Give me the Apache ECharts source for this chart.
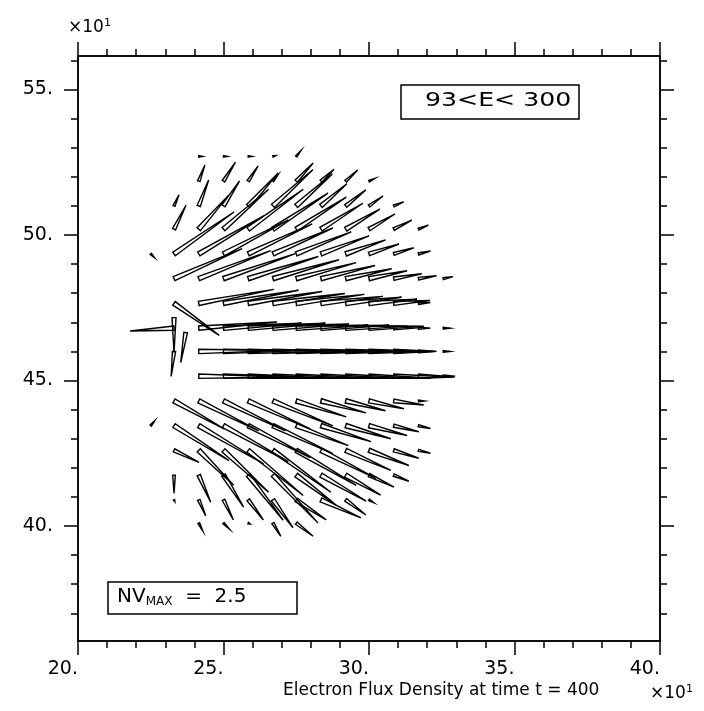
<!DOCTYPE html>
<html><head><meta charset="utf-8">
<script src="https://cdn.jsdelivr.net/npm/echarts@6/dist/echarts.min.js"></script>
<style>html,body{margin:0;padding:0;background:#fff}#c{width:704px;height:711px}</style>
</head><body><div id="c"></div>
<script>
// grid column positions (index 0 = col -2)
const colX = [21.65,22.5,23.3,24.15,25.0,25.85,26.7,27.5,28.35,29.2,30.0,30.85,31.7,32.55,33.4];
// row positions and first column (col 0 = 23.3)
const rowY = [52.7,51.85,51.0,50.2,49.35,48.5,47.65,46.8,46.0,45.15,44.3,43.45,42.6,41.75,40.9,40.1];
const rowFirstCol = [1,1,0,0,-1,0,0,0,0,1,0,-1,0,0,0,1];
// vector components per row (x-direction u, y-direction v)
const U = [
 [0.14,0.14,0.14,0.10,0.17],
 [0.21,0.41,0.34,0.17,0.58,0.45,0.41,0.21],
 [0.17,0.34,0.55,1.03,1.37,1.24,0.89,0.69,0.48,0.34],
 [0.41,1.03,1.55,1.89,1.89,1.72,1.44,1.17,0.89,0.62,0.34],
 [0.14,2.06,2.23,2.23,2.20,2.06,1.89,1.65,1.37,1.03,0.69,0.41],
 [2.34,2.47,2.47,2.41,2.27,2.06,1.86,1.58,1.31,0.96,0.62,0.34],
 [1.55,2.58,2.58,2.54,2.47,2.34,2.13,1.92,1.65,1.24,0.41],
 [-1.51,2.68,2.68,2.65,2.61,2.47,2.34,2.13,1.89,1.03,0.41,0.24],
 [-0.10,2.75,2.75,2.75,2.71,2.61,2.47,2.27,2.06,1.44,0.62,0.24],
 [2.75,2.75,2.75,2.75,2.68,2.54,2.34,2.13,1.86,1.24,0.41],
 [1.72,2.06,2.13,2.13,2.06,1.72,1.55,1.37,1.20,1.03,0.21],
 [0.14,1.89,2.23,2.23,2.13,2.06,1.79,1.72,1.55,1.31,0.86,0.41],
 [0.86,1.20,1.55,1.89,1.99,2.06,1.89,1.55,1.37,0.86,0.41],
 [0.00,0.41,0.69,1.20,1.55,1.37,1.55,1.20,0.86,0.52],
 [0.03,0.24,0.34,0.52,0.69,1.03,1.37,0.69,0.17],
 [0.14,0.21,0.07,0.27,0.58]
];
const V = [
 [0,0,0,0.03,0.21],
 [0.55,0.65,0.52,0.21,0.62,0.41,0.38,0.10],
 [0.38,0.89,0.86,1.13,1.24,1.10,0.76,0.55,0.34,0.14],
 [0.82,1.17,1.37,1.37,1.24,1.10,0.89,0.69,0.52,0.31,0.14],
 [-0.14,1.44,1.31,1.17,1.03,0.89,0.76,0.62,0.48,0.34,0.21,0.10],
 [1.03,0.96,0.86,0.76,0.65,0.55,0.45,0.34,0.27,0.17,0.10,0.07],
 [-1.10,0.48,0.45,0.41,0.34,0.31,0.24,0.21,0.14,0.10,0.03],
 [-0.10,0.21,0.17,0.17,0.14,0.10,0.10,0.07,0.07,0.03,0,0],
 [-0.86,0.03,0.03,0,0,0,0,0,0,0,0,0],
 [-0.03,-0.03,-0.07,-0.07,-0.07,-0.07,-0.07,-0.07,-0.03,-0.03,0],
 [-0.96,-1.03,-1.03,-0.96,-0.86,-0.55,-0.41,-0.34,-0.27,-0.14,0],
 [0.17,-1.20,-1.31,-1.24,-1.10,-0.96,-0.69,-0.55,-0.45,-0.34,-0.21,-0.10],
 [-0.41,-1.20,-1.44,-1.55,-1.44,-1.20,-0.96,-0.69,-0.52,-0.27,-0.10],
 [-0.62,-0.93,-1.10,-1.55,-1.65,-1.03,-0.89,-0.69,-0.41,-0.21],
 [-0.07,-0.55,-0.69,-0.69,-0.96,-0.69,-0.62,-0.52,-0.10],
 [-0.27,-0.21,-0.03,-0.45,-0.45]
];
// irregular vectors next to the source (off-grid)
const srcX = [23.30, 23.70];
const srcY = [47.16, 46.65];
const srcU = [0.00, -0.17];
const srcV = [-1.20, -1.03];

const xMajor = [20,25,30,35,40];
const xMinor = [21,22,23,24,26,27,28,29,31,32,33,34,36,37,38,39];
const yMajor = [40,45,50,55];
const yMinor = [37,38,39,41,42,43,44,46,47,48,49,51,52,53,54,56];
const X_MIN = 20, X_MAX = 40, Y_MIN = 36.05, Y_MAX = 56.15;
const labelText = '93<E< 300';
const nvValue = '2.5';
const titleText = 'Electron Flux Density at time t = 400';

const data = [];
rowY.forEach((y, r) => {
  U[r].forEach((u, k) => {
    const col = rowFirstCol[r] + k;
    data.push([colX[col + 2], y, u, V[r][k]]);
  });
});
srcX.forEach((x, i) => data.push([x, srcY[i], srcU[i], srcV[i]]));

const FONT = 'DejaVu Sans';
const lineC = '#000';
function xAx(pos, ticks, len, labels) {
  return {type:'value', position:pos, min:X_MIN, max:X_MAX, gridIndex:0,
    axisLine:{show:true, onZero:false, lineStyle:{color:lineC, width:1.5}},
    axisTick:{show:true, customValues:ticks, length:len, inside:false, lineStyle:{color:lineC, width:1.5}},
    axisLabel:{show:labels, customValues:ticks, formatter:v=>v+'.', align:'right', margin:19,
      color:'#000', fontFamily:FONT, fontSize:19},
    splitLine:{show:false}};
}
function yAx(pos, ticks, len, labels) {
  return {type:'value', position:pos, min:Y_MIN, max:Y_MAX, gridIndex:0,
    axisLine:{show:true, onZero:false, lineStyle:{color:lineC, width:1.5}},
    axisTick:{show:true, customValues:ticks, length:len, inside:false, lineStyle:{color:lineC, width:1.5}},
    axisLabel:{show:labels, customValues:ticks, formatter:v=>v+'.', margin:25, verticalAlign:'middle',
      color:'#000', fontFamily:FONT, fontSize:19, padding:[0,0,6,0]},
    splitLine:{show:false}};
}

const chart = echarts.init(document.getElementById('c'), null, {renderer:'canvas'});
chart.setOption({
  animation:false,
  backgroundColor:'#fff',
  grid:{left:78, top:56, width:582, height:585},
  xAxis:[xAx('bottom', xMajor, 14, true), xAx('bottom', xMinor, 7, false),
         xAx('top', xMajor, 14, false), xAx('top', xMinor, 7, false)],
  yAxis:[yAx('left', yMajor, 14, true), yAx('left', yMinor, 7, false),
         yAx('right', yMajor, 14, false), yAx('right', yMinor, 7, false)],
  series:[{
    type:'custom', xAxisIndex:0, yAxisIndex:0, data:data,
    renderItem:function(params, api){
      const x = api.value(0), y = api.value(1), u = api.value(2), v = api.value(3);
      const p0 = api.coord([x, y]);
      const p1 = api.coord([x + u, y + v]);
      const dx = p1[0]-p0[0], dy = p1[1]-p0[1];
      const L = Math.hypot(dx, dy);
      if (L < 1) {
        return {type:'rect', shape:{x:p0[0]-1, y:p0[1]-1, width:2, height:2}, style:{fill:'#000'}};
      }
      const nx = -dy/L, ny = dx/L;
      const hw = Math.min(2.2, 0.6 + L*0.04);
      return {type:'polygon', shape:{points:[[p0[0]+nx*hw, p0[1]+ny*hw], [p1[0], p1[1]], [p0[0]-nx*hw, p0[1]-ny*hw]]},
        style:{fill:'none', stroke:'#000', lineWidth:1.4}};
    }
  }],
  graphic:[
    {type:'text', left:68, top:18, style:{text:'{a|×10}{s|1}', rich:{a:{fontFamily:FONT, fontSize:17, fill:'#000'}, s:{fontFamily:FONT, fontSize:11, fill:'#000', padding:[0,0,8,0]}}}},
    {type:'rect', shape:{x:401, y:85, width:178, height:34}, style:{fill:'#fff', stroke:'#000', lineWidth:1.5}},
    {type:'text', x:425, y:91, scaleX:1.26, style:{text:labelText, fontFamily:FONT, fontSize:20, fill:'#000'}},
    {type:'rect', shape:{x:108, y:582, width:189, height:32}, style:{fill:'#fff', stroke:'#000', lineWidth:1.5}},
    {type:'text', left:117, top:587, style:{text:'{a|NV}{s|MAX}{a|  =  ' + nvValue + '}', rich:{a:{fontFamily:FONT, fontSize:20, fill:'#000'}, s:{fontFamily:FONT, fontSize:12, fill:'#000', padding:[10,0,0,0]}}}},
    {type:'text', left:283, top:682, style:{text:titleText, fontFamily:FONT, fontSize:17, fill:'#000'}},
    {type:'text', left:650, top:684, style:{text:'{a|×10}{s|1}', rich:{a:{fontFamily:FONT, fontSize:17, fill:'#000'}, s:{fontFamily:FONT, fontSize:11, fill:'#000', padding:[0,0,8,0]}}}}
  ]
});
</script></body></html>
